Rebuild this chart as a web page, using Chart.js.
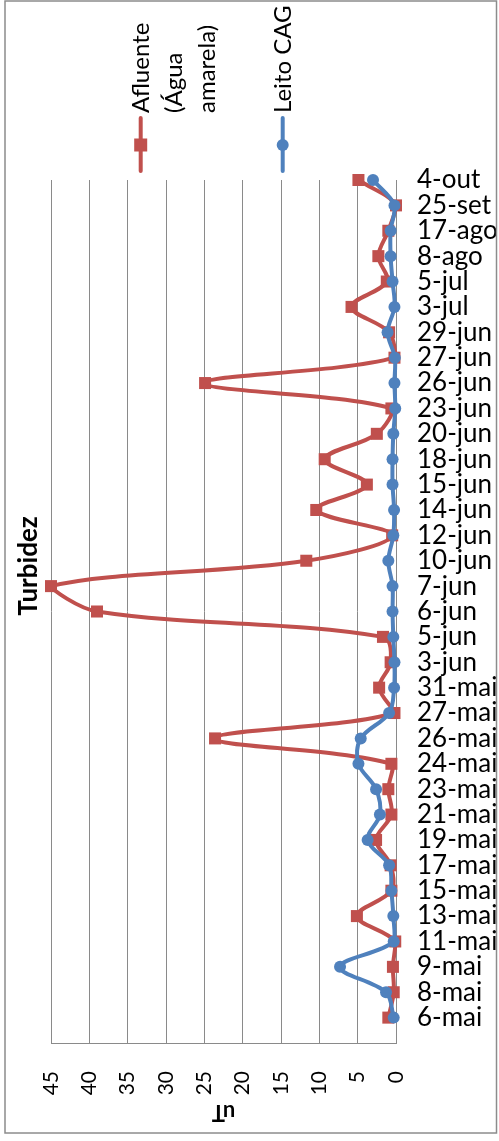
<!DOCTYPE html>
<html><head><meta charset="utf-8">
<script src="https://cdn.jsdelivr.net/npm/chart.js@4"></script>
<style>html,body{margin:0;padding:0;background:#fff;overflow:hidden}#c{position:absolute;left:0;top:0}</style>
</head><body>
<canvas id="c" width="499" height="1141"></canvas>
<script>
const categories = ['6-mai','8-mai','9-mai','11-mai','13-mai','15-mai','17-mai','19-mai','21-mai','23-mai','24-mai','26-mai','27-mai','31-mai','3-jun','5-jun','6-jun','7-jun','10-jun','12-jun','14-jun','15-jun','18-jun','20-jun','23-jun','26-jun','27-jun','29-jun','3-jul','5-jul','8-ago','17-ago','25-set','4-out'];
const afluente = [1.0,0.3,0.4,0.1,5.1,0.6,0.7,2.6,0.6,1.0,0.6,23.6,0.2,2.2,0.7,1.7,39.0,45.0,11.7,0.5,10.4,3.8,9.3,2.5,0.6,24.9,0.2,0.9,5.8,1.2,2.3,1.0,0.0,4.9];
const leitoCAG = [0.3,1.3,7.3,0.3,0.35,0.6,0.9,3.7,2.1,2.6,4.9,4.6,0.9,0.25,0.2,0.35,0.45,0.45,1.0,0.35,0.25,0.45,0.45,0.35,0.1,0.2,0.15,1.1,0.2,0.45,0.7,0.7,0.2,3.0];
const valueTicks = [0,5,10,15,20,25,30,35,40,45];
const legendLines = [['Afluente','(Água','amarela)'],['Leito CAG']];
const chartTitle = 'Turbidez';
const unitTitle = 'uT';

const RED = '#C0504D', BLUE = '#4F81BD', GRID = '#8a8a8a', FONT = 'Lato';

const extras = {
  id: 'extras',
  afterDraw(chart) {
    const ctx = chart.ctx;
    ctx.save();
    // legend
    const legX = [140.7, 282.7];
    const ds = chart.data.datasets;
    ds.forEach((d, i) => {
      const x = legX[i];
      ctx.strokeStyle = d.borderColor; ctx.lineWidth = 4; ctx.lineCap = 'round';
      ctx.beginPath(); ctx.moveTo(x, 118); ctx.lineTo(x, 171); ctx.stroke();
      ctx.fillStyle = d.borderColor;
      if (i === 0) { ctx.fillRect(x - 6.5, 145 - 6.5, 13, 13); }
      else { ctx.beginPath(); ctx.arc(x, 145, 6, 0, Math.PI * 2); ctx.fill(); }
      ctx.fillStyle = '#000';
      ctx.font = '24px ' + FONT;
      ctx.textAlign = 'left'; ctx.textBaseline = 'alphabetic';
      legendLines[i].forEach((t, k) => {
        ctx.save();
        ctx.translate(x + 8 + k * 33, 113);
        ctx.rotate(-Math.PI / 2);
        ctx.fillText(t, 0, 0);
        ctx.restore();
      });
    });
    // chart title, reading bottom to top
    ctx.save();
    ctx.fillStyle = '#000';
    ctx.font = 'bold 26px ' + FONT;
    ctx.textAlign = 'center'; ctx.textBaseline = 'alphabetic';
    ctx.translate(37, 566);
    ctx.rotate(-Math.PI / 2);
    ctx.fillText(chartTitle, 0, 0);
    ctx.restore();
    // unit title, upside down
    const ca = chart.chartArea;
    ctx.save();
    ctx.fillStyle = '#000';
    ctx.font = 'bold 22px ' + FONT;
    ctx.textAlign = 'center'; ctx.textBaseline = 'alphabetic';
    ctx.translate((ca.left + ca.right) / 2, 1105);
    ctx.rotate(Math.PI);
    ctx.fillText(unitTitle, 0, 0);
    ctx.restore();
    // clip beyond frame + frame
    ctx.fillStyle = '#fff';
    ctx.fillRect(497, 0, 2, 1141);
    ctx.strokeStyle = '#8c8c8c'; ctx.lineWidth = 1.5;
    ctx.strokeRect(5, 1, 491.5, 1132);
    ctx.restore();
  }
};

new Chart(document.getElementById('c'), {
  type: 'line',
  data: {
    datasets: [
      { label: legendLines[0].join(' '), data: afluente.map((v, i) => ({x: v, y: i})),
        borderColor: RED, backgroundColor: RED, borderWidth: 4, tension: 0.35,
        pointStyle: 'rect', pointRadius: 8.5, pointBorderWidth: 0, order: 1, clip: false },
      { label: legendLines[1].join(' '), data: leitoCAG.map((v, i) => ({x: v, y: i})),
        borderColor: BLUE, backgroundColor: BLUE, borderWidth: 4, tension: 0.35,
        pointStyle: 'circle', pointRadius: 6, pointBorderWidth: 0, order: 0, clip: false }
    ]
  },
  options: {
    responsive: false, animation: false, indexAxis: 'y',
    layout: { padding: { left: 51, top: 180, right: 0, bottom: 8 } },
    plugins: {
      legend: { display: false }, tooltip: { enabled: false }, title: { display: false }
    },
    scales: {
      x: {
        type: 'linear', position: 'bottom', reverse: true, min: 0, max: 45,
        afterBuildTicks: s => { s.ticks = valueTicks.map(v => ({value: v})); },
        afterFit: s => { s.height = 90; },
        ticks: { minRotation: 90, maxRotation: 90, padding: 28, color: '#000', autoSkip: false,
          font: { family: FONT, size: 21 } },
        grid: { color: GRID, lineWidth: 1, drawTicks: false },
        border: { color: GRID, width: 1 }
      },
      y: {
        type: 'linear', position: 'right', min: -1, max: 33,
        afterBuildTicks: s => { s.ticks = categories.map((c, i) => ({value: i})); },
        afterFit: s => { s.width = 103; },
        ticks: { autoSkip: false, padding: 21, color: '#000', callback: v => categories[v],
          font: { family: FONT, size: 26, lineHeight: 1 } },
        grid: { display: false, drawTicks: false },
        border: { color: GRID, width: 1 }
      }
    }
  },
  plugins: [extras]
});
</script>
</body></html>
